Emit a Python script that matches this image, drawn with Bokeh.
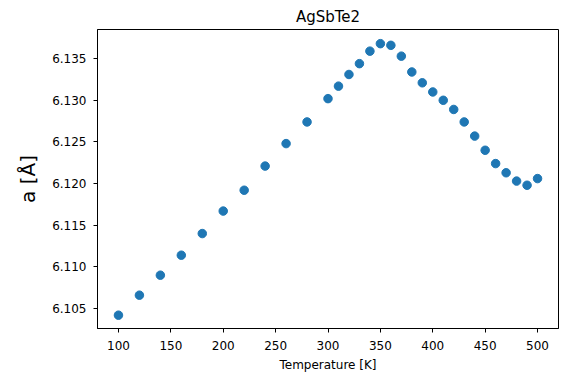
from bokeh.plotting import figure
from bokeh.models import Range1d, FixedTicker, PrintfTickFormatter
from bokeh.embed import file_html
from bokeh.resources import INLINE

temperature = [100, 120, 140, 160, 180, 200, 220, 240, 260, 280, 300,
               310, 320, 330, 340, 350, 360, 370, 380, 390, 400,
               410, 420, 430, 440, 450, 460, 470, 480, 490, 500]
lattice_a = [6.1042, 6.1066, 6.1090, 6.1114, 6.1140, 6.1167, 6.1192, 6.1221, 6.1248, 6.1274, 6.1302,
             6.1317, 6.1331, 6.1344, 6.1359, 6.1368, 6.1366, 6.1353, 6.1334, 6.1321, 6.1310,
             6.1300, 6.1289, 6.1274, 6.1257, 6.1240, 6.1224, 6.1213, 6.1203, 6.1198, 6.1206]
x_ticks = [100, 150, 200, 250, 300, 350, 400, 450, 500]
y_ticks = [6.105, 6.110, 6.115, 6.120, 6.125, 6.130, 6.135]

FONT = "DejaVu Sans"

p = figure(width=561, height=374, output_backend="svg", toolbar_location=None,
           x_range=Range1d(80, 520), y_range=Range1d(6.1026, 6.1385),
           min_border_left=97, min_border_right=3, min_border_top=29, min_border_bottom=41)

p.title.text = "AgSbTe2"
p.title.align = "center"
p.title.text_font = FONT
p.title.text_font_size = "15px"
p.title.text_font_style = "normal"
p.title.text_color = "black"
p.title.standoff = 7
p.title.offset = 0

p.scatter(temperature, lattice_a, size=8.5, color="#1f77b4", line_color="#1f77b4")

p.xgrid.visible = False
p.ygrid.visible = False
p.outline_line_color = "black"
p.outline_line_width = 1
p.outline_line_alpha = 1

p.xaxis.ticker = FixedTicker(ticks=x_ticks)
p.yaxis.ticker = FixedTicker(ticks=y_ticks)
p.yaxis.formatter = PrintfTickFormatter(format="%.3f")

for ax in (p.xaxis[0], p.yaxis[0]):
    ax.axis_line_color = "black"
    ax.major_tick_line_color = "black"
    ax.major_tick_in = 0
    ax.major_tick_out = 4
    ax.minor_tick_line_color = None
    ax.major_label_text_font = FONT
    ax.major_label_text_font_size = "12px"
    ax.major_label_text_color = "black"
    ax.axis_label_text_font = FONT
    ax.axis_label_text_font_style = "normal"
    ax.axis_label_text_color = "black"

p.xaxis.axis_label = "Temperature [K]"
p.xaxis.axis_label_text_font_size = "12px"
p.xaxis.major_label_standoff = 8
p.xaxis.axis_label_standoff = 5

p.yaxis.axis_label = "a [Å]"
p.yaxis.axis_label_text_font_size = "20px"
p.yaxis.major_label_standoff = 7
p.yaxis.axis_label_standoff = 9

open("out.html", "w").write(file_html(p, INLINE))
